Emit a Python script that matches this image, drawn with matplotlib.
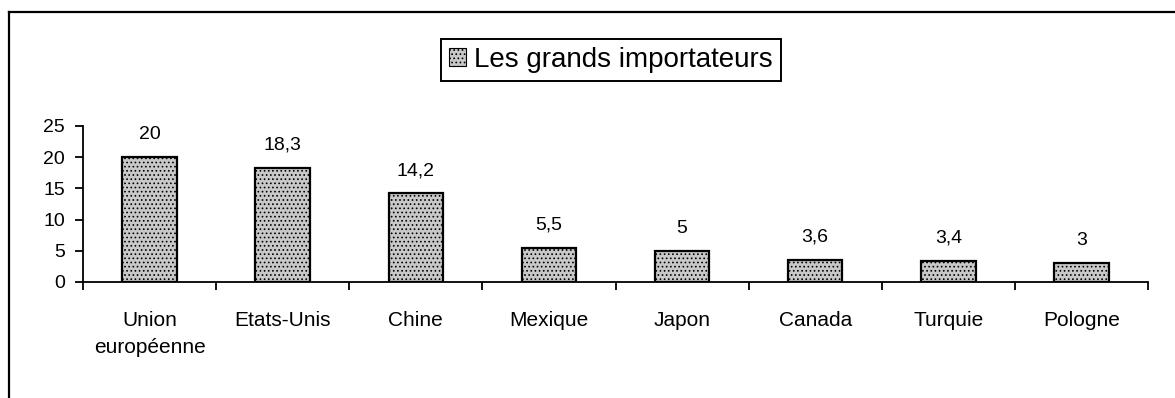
import matplotlib.pyplot as plt
from matplotlib.lines import Line2D
from matplotlib.patches import Patch

plt.rcParams['font.family'] = ['Liberation Sans', 'DejaVu Sans']
plt.rcParams['hatch.linewidth'] = 0.7

# données
pays = ['Union\neuropéenne', 'Etats-Unis', 'Chine', 'Mexique', 'Japon',
        'Canada', 'Turquie', 'Pologne']
valeurs = [20, 18.3, 14.2, 5.5, 5, 3.6, 3.4, 3]
yticks = [0, 5, 10, 15, 20, 25]
titre_legende = 'Les grands importateurs'

fig = plt.figure(figsize=(11.75, 3.98), dpi=100)
ax = fig.add_axes([83 / 1175, 1 - 282 / 398, (1148 - 83) / 1175, 156 / 398])

x = list(range(len(pays)))
bars = ax.bar(x, valeurs, width=0.41, facecolor='#c8c8c8', edgecolor='black',
              linewidth=1.6, hatch='....')

for xi, v in zip(x, valeurs):
    txt = ('%g' % v).replace('.', ',')
    ax.annotate(txt, (xi, v), xytext=(0, 10), textcoords='offset points',
                ha='center', va='bottom', fontsize=14)

ax.set_xlim(-0.5, len(pays) - 0.5)
ax.set_ylim(0, 25)
ax.set_yticks(yticks)
ax.tick_params(axis='y', labelsize=14, length=6, width=1.3, pad=7)

# graduations entre les catégories, libellés au centre
ax.set_xticks([i - 0.5 for i in range(len(pays) + 1)])
ax.set_xticklabels([])
ax.set_xticks(x, minor=True)
ax.set_xticklabels(pays, minor=True, fontsize=15, linespacing=1.55)
ax.tick_params(axis='x', which='major', length=6, width=1.3)
ax.tick_params(axis='x', which='minor', length=0, pad=21)

for s in ['top', 'right']:
    ax.spines[s].set_visible(False)
ax.spines['left'].set_linewidth(1.3)
ax.spines['bottom'].set_linewidth(1.3)

handle = Patch(facecolor='#c8c8c8', edgecolor='black', hatch='....', linewidth=0.8)
leg = fig.legend([handle], [titre_legende], loc='center',
                 bbox_to_anchor=(611 / 1175, 1 - 60 / 398), fontsize=20,
                 fancybox=False, framealpha=1, edgecolor='black',
                 handlelength=0.6, handleheight=0.6, handletextpad=0.3,
                 borderpad=0.3, borderaxespad=0)
leg.get_frame().set_linewidth(1.4)

# cadre du graphique (scan coupé à droite et en bas)
fig.add_artist(Line2D([9 / 1175, 9 / 1175], [0, 1 - 12 / 398], color='black', lw=1.6))
fig.add_artist(Line2D([9 / 1175, 1], [1 - 12 / 398, 1 - 12 / 398], color='black', lw=1.6))

fig.savefig('out.png', dpi=100)
